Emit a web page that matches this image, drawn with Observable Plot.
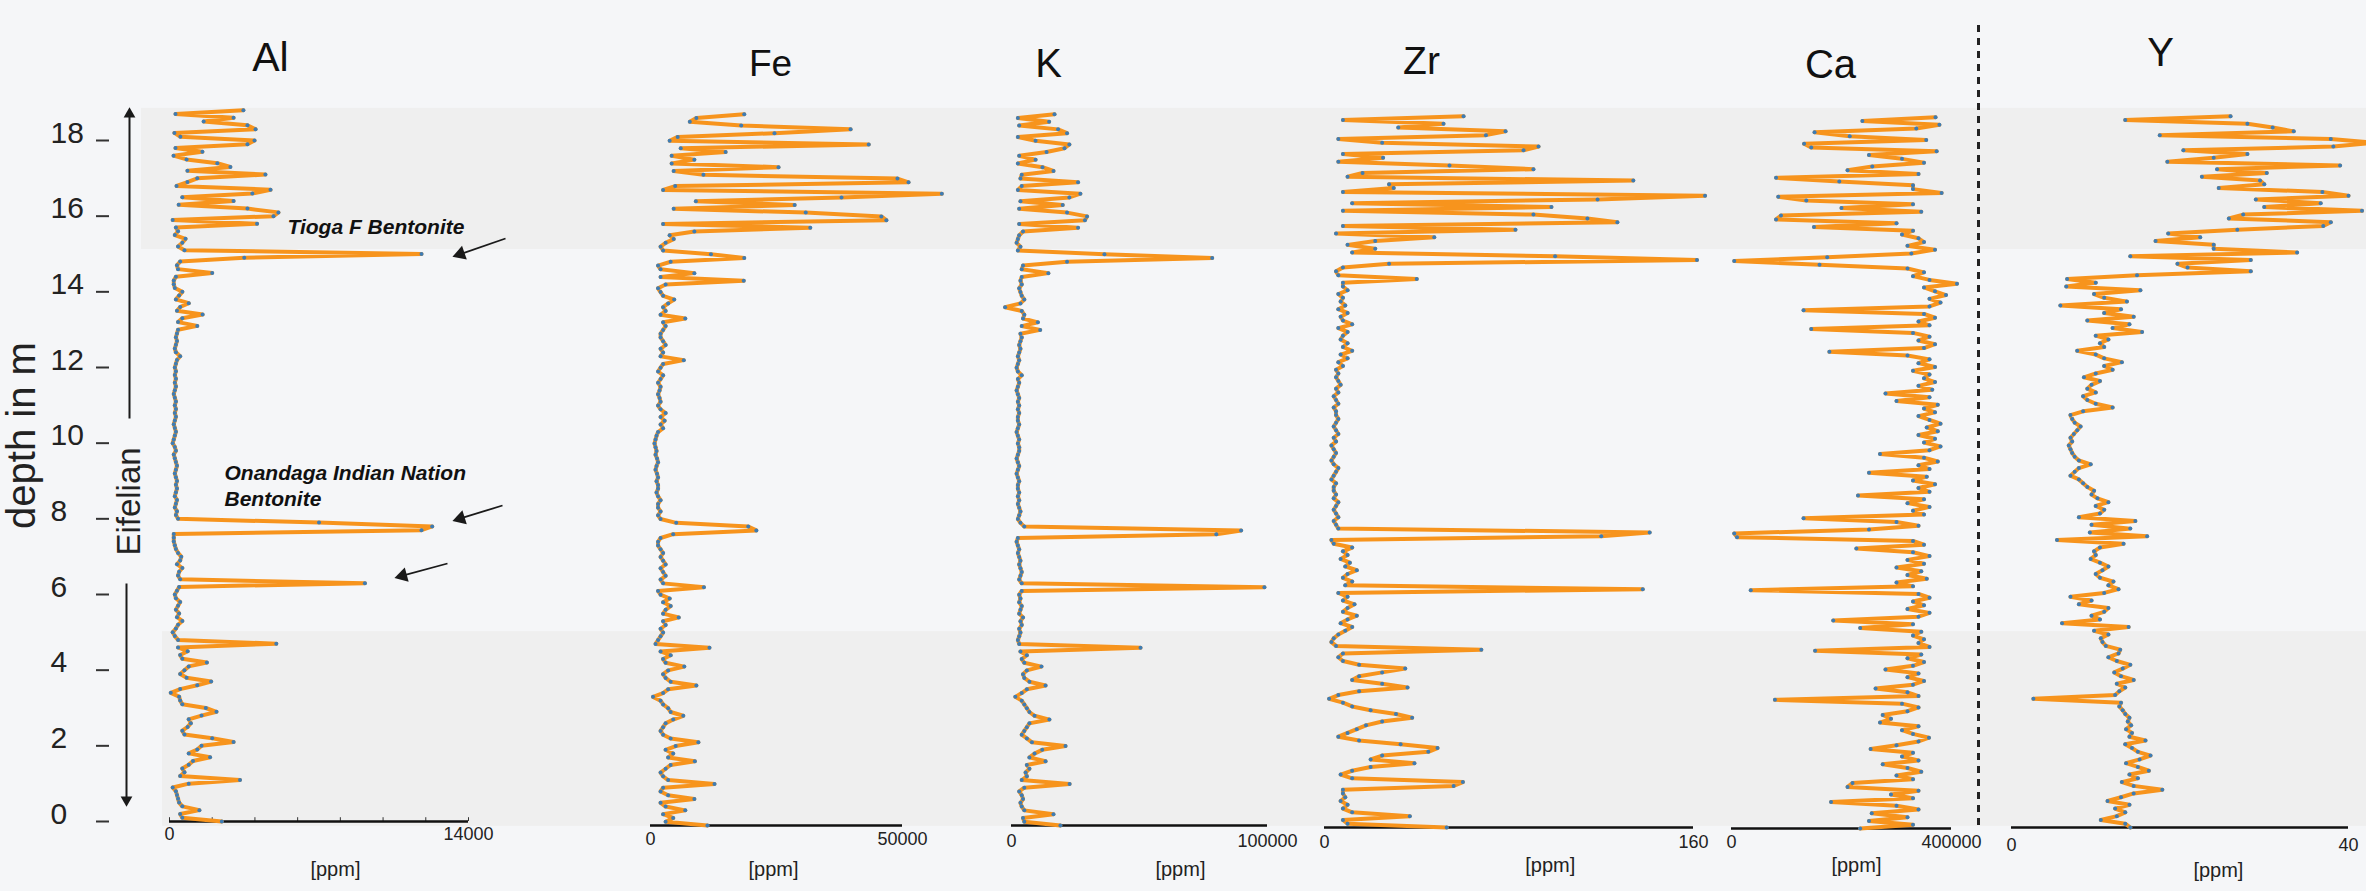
<!DOCTYPE html>
<html>
<head>
<meta charset="utf-8">
<script src="https://cdn.jsdelivr.net/npm/d3@7"></script>
<script src="https://cdn.jsdelivr.net/npm/@observablehq/plot@0.6"></script>
<style>
  html, body { margin: 0; padding: 0; background: #f5f6f8; }
  #chart { position: relative; width: 2366px; height: 891px; overflow: hidden; }
  #chart svg { position: absolute; left: 0; top: 0; pointer-events: none; }
</style>
</head>
<body>
<div id="chart"></div>
<script>
// Core depth (m) of each XRF scan point
const depth = [
  0,0.1,0.2,0.3,0.4,0.5,0.6,0.7,0.8,0.9,
  1,1.1,1.2,1.3,1.4,1.5,1.6,1.7,1.8,1.9,
  2,2.1,2.2,2.3,2.4,2.5,2.6,2.7,2.8,2.9,
  3,3.1,3.2,3.3,3.4,3.5,3.6,3.7,3.8,3.9,
  4,4.1,4.2,4.3,4.4,4.5,4.6,4.7,4.8,4.9,
  5,5.1,5.2,5.3,5.4,5.5,5.6,5.7,5.8,5.9,
  6,6.1,6.2,6.3,6.4,6.5,6.6,6.7,6.8,6.9,
  7,7.1,7.2,7.3,7.4,7.5,7.6,7.7,7.8,7.9,
  8,8.1,8.2,8.3,8.4,8.5,8.6,8.7,8.8,8.9,
  9,9.1,9.2,9.3,9.4,9.5,9.6,9.7,9.8,9.9,
  10,10.1,10.2,10.3,10.4,10.5,10.6,10.7,10.8,10.9,
  11,11.1,11.2,11.3,11.4,11.5,11.6,11.7,11.8,11.9,
  12,12.1,12.2,12.3,12.4,12.5,12.6,12.7,12.8,12.9,
  13,13.1,13.2,13.3,13.4,13.5,13.6,13.7,13.8,13.9,
  14,14.1,14.2,14.3,14.4,14.5,14.6,14.7,14.8,14.9,
  15,15.1,15.2,15.3,15.4,15.5,15.6,15.7,15.8,15.9,
  16,16.1,16.2,16.3,16.4,16.5,16.6,16.7,16.8,16.9,
  17,17.1,17.2,17.3,17.4,17.5,17.6,17.7,17.8,17.9,
  18,18.1,18.2,18.3,18.4,18.5,18.6,18.7,18.8
];

// Element concentrations in ppm, one value per depth
const al = [
  2450,600,500,1400,600,450,400,350,300,150,
  900,3300,500,700,600,900,1100,1900,900,1300,
  1500,3000,2000,700,600,850,1000,900,1500,2200,
  1700,600,500,450,60,500,1300,1950,800,500,
  700,900,1750,600,500,850,400,5000,400,250,
  150,300,400,600,350,450,300,400,500,300,
  250,350,450,9150,500,400,450,600,350,500,
  550,400,300,250,200,200,200,11800,12300,7000,
  400,300,350,250,300,350,250,300,350,300,
  350,300,250,300,350,300,250,200,300,250,
  150,200,250,300,250,200,250,300,250,300,
  250,300,250,200,250,300,250,300,250,300,
  250,300,350,500,300,250,300,350,300,350,
  400,1300,400,600,1550,350,500,900,300,450,
  600,250,200,200,300,2000,400,350,500,3500,
  11800,700,400,600,750,250,400,300,4100,150,
  4870,5100,3650,430,3000,600,3880,4730,330,840,
  1300,4490,840,2850,2240,800,190,1540,280,3650,
  3980,510,230,4030,3650,1600,3000,280,3460
];
const fe = [
  11300,3000,4500,2500,6900,3000,2000,8700,3500,2000,
  2500,12700,3500,2500,2000,3000,4000,8800,3500,4500,
  3000,5000,9500,4000,2500,2000,2500,3000,4500,6500,
  4000,3500,2500,2000,500,2500,3500,9100,4000,3000,
  2500,3500,6700,3000,2500,4000,2000,11700,1000,1500,
  2000,2500,2000,3000,2500,5600,2500,3000,4000,2500,
  3800,2000,1500,10600,2500,2000,3000,2500,2000,3000,
  2500,2000,2500,2000,1500,1500,2000,4500,21000,19400,
  5100,2000,1500,2000,1500,1500,2000,1500,1200,1500,
  1500,1200,1500,1300,1000,1200,1500,1300,1000,1200,
  1000,800,1000,1200,1500,2500,2000,2800,2000,3000,
  2000,1500,2000,1800,1500,1800,2000,1500,2000,2500,
  1500,2000,2500,6600,2000,2500,2000,3000,2500,2000,
  2000,2500,3000,2500,6900,2000,3000,2500,3500,4700,
  2500,2000,1500,3000,18500,2000,8700,2000,1500,4000,
  18600,12000,2500,2000,3000,4600,3800,8700,31700,2500,
  46800,45800,30800,4600,28600,9000,37900,57800,2500,4900,
  51200,49000,10500,4600,25400,4200,8700,4200,14900,6000,
  43300,3800,5400,24600,39700,18000,7800,9100,18600
];
const k = [
  19100,5000,4500,16400,5000,4000,3500,4500,4000,3000,
  5000,22700,4000,6000,5500,7000,6000,13300,7000,9000,
  12000,21100,8000,6000,4000,5000,6000,7000,14800,9000,
  7000,6000,5000,4000,1500,4000,6000,13300,7000,5000,
  4500,6000,11700,5000,4000,6000,3500,50400,3000,2500,
  3000,3500,3000,4000,3500,4500,3000,3500,4000,3000,
  3500,3000,4000,98800,4000,3000,3500,4000,3500,3000,
  3500,3000,2500,3000,2500,2000,2500,80000,89700,5000,
  3500,2500,3000,3500,3000,2500,3000,2500,3000,2500,
  2500,3000,2500,2000,2500,3000,2500,2000,2500,3000,
  3000,2500,3000,2500,2000,2500,3000,2500,2500,3000,
  2500,3000,2500,3000,2500,2000,2500,3000,2500,4000,
  2500,2000,2500,3000,2500,3000,3500,3000,3500,4000,
  3500,11200,4000,10300,4500,5000,4000,-2500,3500,5000,
  4000,3500,3000,4000,3500,4000,14400,4000,4500,21700,
  78400,36300,2500,3500,2000,2500,3000,4500,26000,3000,
  28700,29500,21700,3000,20000,3500,22600,26900,2500,4000,
  26000,3500,4000,16400,12100,2500,9400,3000,13700,20700,
  22600,9400,2500,21700,18200,3000,14700,2500,16800
];
const zr = [
  53,10,8,37,12,8,10,7,9,8,
  8,56,60,12,7,12,20,39,20,25,
  45,49,33,15,6,10,14,18,25,38,
  31,20,12,8,2,6,15,36,25,12,
  15,25,35,15,8,6,8,68,5,3,
  4,6,9,12,7,10,14,8,10,13,
  8,10,6,138,9,12,8,10,14,9,
  11,7,10,8,12,4,3,120,141,6,
  5,4,6,5,4,5,6,4,5,4,
  4,5,3,4,5,6,4,3,4,5,
  4,3,5,4,6,5,4,5,6,5,
  5,4,6,5,4,6,5,7,6,5,
  6,5,8,6,10,7,12,8,10,7,
  8,10,6,12,8,7,10,6,9,7,
  8,6,10,8,8,40,6,5,8,28,
  161.5,100,12,22,10,22,47.6,5,82.8,8,
  127,114,90.6,8,98.4,12,118.4,165,8,30,
  28,133.9,10,16.5,90.6,54.2,6,25.4,8,86.3,
  92.8,25,6,70,78.5,32,51.6,8,60.3
];
const ca = [
  234000,330000,250000,320000,255000,340000,300000,181000,330000,290000,
  340000,211000,220000,330000,300000,345000,320000,275000,340000,310000,
  330000,253000,300000,340000,359000,330000,310000,340000,270000,290000,
  275000,320000,340000,310000,79000,340000,320000,262000,330000,350000,
  320000,340000,280000,330000,350000,320000,345000,152000,360000,340000,
  350000,330000,345000,234000,330000,185000,340000,360000,320000,350000,
  330000,360000,340000,35000,330000,300000,355000,320000,345000,300000,
  350000,320000,360000,330000,227000,350000,330000,10000,5000,250000,
  340000,300000,131000,350000,330000,360000,320000,350000,230000,360000,
  340000,370000,330000,355000,250000,360000,340000,375000,350000,270000,
  360000,380000,350000,370000,340000,375000,355000,380000,360000,340000,
  370000,350000,375000,300000,360000,280000,365000,340000,370000,350000,
  360000,330000,370000,340000,360000,320000,178000,350000,370000,340000,
  360000,330000,145000,360000,340000,370000,350000,131000,360000,380000,
  360000,390000,370000,350000,410000,360000,330000,350000,320000,160000,
  5000,174000,327000,370000,320000,350000,340000,310000,330000,150000,
  300000,81000,90000,345000,200000,330000,136000,85000,382000,330000,
  330000,196000,81000,340000,211000,256000,350000,310000,250000,373000,
  145000,132000,354000,215000,151000,336000,378000,238000,371000
];
const yt = [
  14.1,13.5,10.6,12.5,13.5,12.3,14,11.4,13,14.5,
  17.9,14.5,13.1,15,14,16.3,15,13.6,15.2,16.5,
  15,14.3,13.5,15.9,14,14.3,13.6,14.2,13.8,14,
  13.5,13.2,12.8,13,2.6,12.3,12.8,13.5,12.5,14.5,
  13,12.2,13.2,14.1,12.5,11.5,12.7,12.9,11.2,10.8,
  10.6,11.5,9.8,13.9,6,10.5,9.5,11,11.5,8,
  9.5,7,11,12.7,11.5,12.1,10.5,10,10.8,11.5,
  10.5,9.4,10,9.8,10.5,13.3,5.4,16.1,9.3,14.1,
  9.5,14.7,8,10.5,11,10,11.5,10.2,9.5,9.8,
  9,8.5,8,7,7.5,8,9.4,8,7.5,7.2,
  7,6.8,7.2,7,7.4,7.8,8.2,7.5,7.2,7,
  8.5,12,10,9,8.5,10,9,9.5,10.5,8.6,
  10,12,11,13.1,11,10,7.8,11,10.5,11.5,
  10,15.5,12,14,9,14.5,11,13,5.8,13.7,
  11,9.8,15.3,6.5,10,6.6,14.9,28.4,20.9,19.7,
  28.4,14.1,33.9,24,24,17.1,22.4,18.6,26.8,37,
  37.9,25.8,27.5,41.6,30,36.7,29,40,36.9,24.6,
  30,29.5,22.6,30.3,24.4,39,18.5,24,28,20.4,
  38.2,43,37.9,17.6,33.5,31,28,13.5,26
];

// Depth axis ticks and the Al scale's minor ticks
const depthTicks = [0, 2, 4, 6, 8, 10, 12, 14, 16, 18];
const alMinorTicks = [0, 2000, 4000, 6000, 8000, 10000, 12000, 14000];

// Shaded intervals (depth in m)
const zoneBase = [-0.13, 15.12];
const zoneTop = [5.02, 18.85];

const rows = depth.map((d, i) => ({depth: d, Al: al[i], Fe: fe[i], K: k[i], Zr: zr[i], Ca: ca[i], Y: yt[i]}));

const W = 2366, H = 891;
const ORANGE = "#f7941d", BLUE = "#3e7cb4";
const FONT = "'Liberation Sans', Arial, Helvetica, sans-serif";
const chart = document.getElementById("chart");
const baseStyle = {background: "transparent", overflow: "visible", fontFamily: FONT};

function mount(svg) { chart.appendChild(svg); }

// Background: shaded intervals and the depth axis
const zones = zoneBase.map((b, i) => ({from: b, to: zoneTop[i], left: i === 0 ? 162 : 141}));
mount(Plot.plot({
  width: W, height: H, margin: 0, style: baseStyle,
  x: {domain: [0, W], range: [0, W], axis: null},
  y: {domain: [0, 18], range: [821, 140], axis: null},
  marks: [
    Plot.rect(zones, {x1: "left", x2: () => W, y1: "from", y2: "to", fill: "#efefef"}),
    Plot.ruleY(depthTicks, {x1: 96, x2: 109, stroke: "#333", strokeWidth: 2}),
    Plot.text(depthTicks, {x: 50, y: d => d, text: d => String(d), textAnchor: "start",
      lineAnchor: "bottom", dy: 2, fontSize: 30, fill: "#222"})
  ]
}));

// One profile per element, each with its own ppm scale
const panels = [
  {key: "Al", max: 14000,  x0: 169,  x1: 468,  axisY: 821, labelDy: 18, unitDy: 54, unitAt: 0.555},
  {key: "Fe", max: 50000,  x0: 650,  x1: 902,  axisY: 825, labelDy: 19, unitDy: 50, unitAt: 0.488},
  {key: "K",  max: 100000, x0: 1011, x1: 1267, axisY: 825, labelDy: 21, unitDy: 50, unitAt: 0.66},
  {key: "Zr", max: 160,    x0: 1324, x1: 1693, axisY: 827, labelDy: 20, unitDy: 44, unitAt: 0.612},
  {key: "Ca", max: 400000, x0: 1731, x1: 1951, axisY: 828, labelDy: 19, unitDy: 43, unitAt: 0.568},
  {key: "Y",  max: 40,     x0: 2011, x1: 2348, axisY: 827, labelDy: 23, unitDy: 49, unitAt: 0.614}
];

for (const p of panels) {
  const marks = [
    Plot.ruleY([0], {x1: 0, x2: p.max, stroke: "#111", strokeWidth: 2.5}),
    Plot.line(rows, {x: p.key, y: "depth", stroke: ORANGE, strokeWidth: 4, strokeLinejoin: "round"}),
    Plot.dot(rows, {x: p.key, y: "depth", r: 2, fill: BLUE}),
    Plot.text([0, p.max], {x: d => d, y: () => 0, text: d => String(d), textAnchor: "middle",
      lineAnchor: "bottom", dy: p.labelDy, fontSize: 18, fill: "#222"}),
    Plot.text(["[ppm]"], {x: () => p.max * p.unitAt, y: () => 0, text: d => d, textAnchor: "middle",
      lineAnchor: "bottom", dy: p.unitDy, fontSize: 20, fill: "#222"})
  ];
  if (p.key === "Al") {
    marks.unshift(Plot.ruleX(alMinorTicks, {y1: 0, y2: 0.1, stroke: "#333", strokeWidth: 1}));
  }
  mount(Plot.plot({
    width: W, height: H, margin: 0, style: baseStyle,
    x: {domain: [0, p.max], range: [p.x0, p.x1], axis: null},
    y: {domain: [0, 18], range: [p.axisY, p.axisY - 681], axis: null},
    marks
  }));
}

// Labels, arrows and the separator, placed in page pixels
const titles = [
  {t: "Al", x: 270, y: 70, s: 41},
  {t: "Fe", x: 770, y: 75, s: 37},
  {t: "K",  x: 1048, y: 76, s: 40},
  {t: "Zr", x: 1421, y: 73, s: 39},
  {t: "Ca", x: 1830, y: 77, s: 40},
  {t: "Y",  x: 2160, y: 65, s: 40}
];
const notes = [
  {t: "Tioga F Bentonite", x: 287, y: 233},
  {t: "Onandaga Indian Nation", x: 224, y: 479},
  {t: "Bentonite", x: 224, y: 505}
];
// pointer arrows: tail -> tip
const pointers = [
  {x1: 505, y1: 238, x2: 450, y2: 257},
  {x1: 502, y1: 505, x2: 450, y2: 521},
  {x1: 447, y1: 563, x2: 392, y2: 578}
];
const headLen = 10.5;
const heads = pointers.map(a => {
  const dx = a.x2 - a.x1, dy = a.y2 - a.y1, L = Math.hypot(dx, dy);
  const ux = dx / L, uy = dy / L;
  return {x: a.x2 - ux * headLen, y: a.y2 - uy * headLen,
          rot: Math.atan2(ux, -uy) * 180 / Math.PI};
});
const shafts = pointers.map((a, i) => ({x1: a.x1, y1: a.y1, x2: heads[i].x, y2: heads[i].y}));
const stageArrows = [
  {x1: 129, y1: 418, x2: 129, y2: 112, hx: 129, hy: 113.5, rot: 0},
  {x1: 126, y1: 583, x2: 126, y2: 800, hx: 126, hy: 799.5, rot: 180}
];

mount(Plot.plot({
  width: W, height: H, margin: 0, style: baseStyle,
  x: {domain: [0, W], range: [0, W], axis: null},
  y: {domain: [0, H], range: [0, H], axis: null},
  marks: [
    Plot.ruleX([1978], {y1: 25, y2: 827, stroke: "#222", strokeWidth: 3, strokeDasharray: "7,6"}),
    Plot.text(titles, {x: "x", y: "y", text: "t", fontSize: d => d.s, lineAnchor: "bottom", fill: "#111"}),
    Plot.text(["depth in m"], {x: () => 22, y: () => 435, text: d => d, rotate: -90, fontSize: 40,
      lineAnchor: "middle", fill: "#222"}),
    Plot.text(["Eifelian"], {x: () => 129, y: () => 501, text: d => d, rotate: -90, fontSize: 33,
      lineAnchor: "middle", fill: "#222"}),
    Plot.link(stageArrows, {x1: "x1", y1: "y1", x2: "x2", y2: "y2", stroke: "#1a1a1a", strokeWidth: 2}),
    Plot.dot(stageArrows, {x: "hx", y: "hy", symbol: "triangle2", r: 5.6, rotate: "rot", fill: "#1a1a1a"}),
    Plot.text(notes, {x: "x", y: "y", text: "t", textAnchor: "start", lineAnchor: "bottom",
      fontSize: 21, fontWeight: "bold", fontStyle: "italic", fill: "#111"}),
    Plot.link(shafts, {x1: "x1", y1: "y1", x2: "x2", y2: "y2", stroke: "#1a1a1a", strokeWidth: 1.8}),
    Plot.dot(heads, {x: "x", y: "y", symbol: "triangle2", r: 7, rotate: "rot", fill: "#1a1a1a"})
  ]
}));
</script>
</body>
</html>
